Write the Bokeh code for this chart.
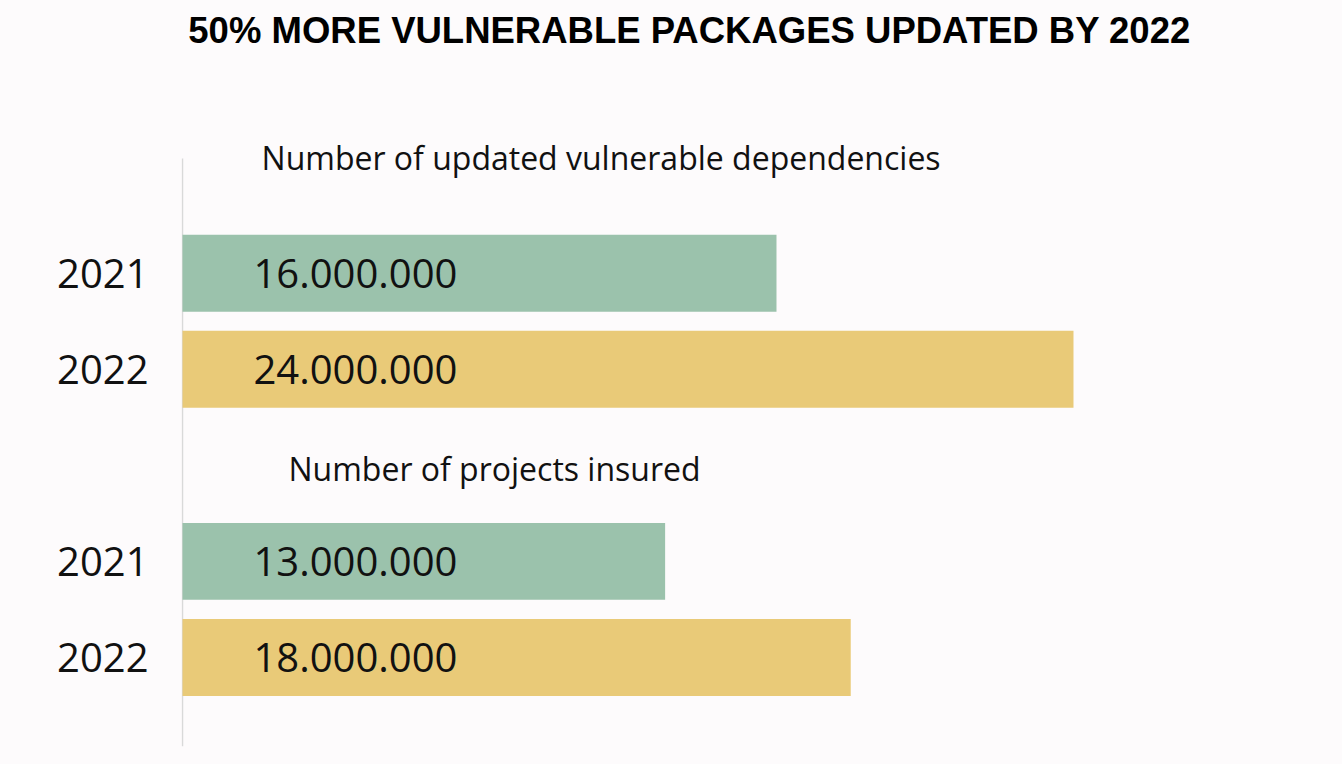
from bokeh.plotting import figure
from bokeh.models import Range1d, FixedTicker, Label, ColumnDataSource
from bokeh.embed import file_html
from bokeh.resources import INLINE
from bokeh.core.properties import value

BG = "#fdfbfc"
INK = "#111111"

title_text = "50% MORE VULNERABLE PACKAGES UPDATED BY 2022"
sections = ["Number of updated vulnerable dependencies", "Number of projects insured"]
years = ["2021", "2022"]
dependencies = [16_000_000, 24_000_000]
projects = [13_000_000, 18_000_000]
year_colors = ["#9bc2ac", "#e9ca78"]

# build rows: each section takes 3 slots (subtitle + 2 bars)
ys, vals, cols, labs = [], [], [], []
for g, series in enumerate([dependencies, projects]):
    for j, v in enumerate(series):
        ys.append(4 - (3 * g + j))
        vals.append(v)
        cols.append(year_colors[j])
        labs.append(f"{v:,}".replace(",", "."))

src = ColumnDataSource(dict(y=ys, value=vals, color=cols, label=labs))

Y_BOTTOM, Y_AXIS_TOP, Y_TOP = -0.927, 5.193, 6.839

p = figure(width=1342, height=764, output_backend="svg", toolbar_location=None,
           x_range=Range1d(-0.027e6, 30.115e6), y_range=Range1d(Y_BOTTOM, Y_TOP),
           min_border_left=181, min_border_right=42, min_border_top=0,
           min_border_bottom=18, background_fill_color=BG, border_fill_color=BG,
           outline_line_color=None)

# thin vertical baseline
p.segment(x0=0, y0=Y_BOTTOM, x1=0, y1=Y_AXIS_TOP, line_color="#d9d9d9", line_width=1.5)

p.hbar(y="y", left=0, right="value", height=0.8, fill_color="color",
       line_color=None, source=src)
p.text(x=0, y="y", text="label", x_offset=71, text_baseline="middle",
       text_align="left", text_font=value("Open Sans"), text_font_size="40px",
       text_color=INK, source=src)

p.xaxis.visible = False
p.xgrid.visible = False
p.ygrid.visible = False

p.yaxis.ticker = FixedTicker(ticks=ys)
p.yaxis.major_label_overrides = {y: years[i % 2] for i, y in enumerate(ys)}
p.yaxis.axis_line_color = None
p.yaxis.major_tick_line_color = None
p.yaxis.minor_tick_line_color = None
p.yaxis.major_label_text_font = "Open Sans"
p.yaxis.major_label_text_font_size = "40px"
p.yaxis.major_label_text_color = INK
p.yaxis.major_label_standoff = 27

p.add_layout(Label(x=2.13e6, y=5.203, text=sections[0], text_baseline="middle",
                   text_font="Open Sans", text_font_size="32px", text_color=INK))
p.add_layout(Label(x=2.855e6, y=1.964, text=sections[1], text_baseline="middle",
                   text_font="Open Sans", text_font_size="32px", text_color=INK))
p.add_layout(Label(x=13.66e6, y=6.526, text=title_text, text_align="center",
                   text_baseline="middle", text_font="Liberation Sans",
                   text_font_style="bold", text_font_size="36.5px", text_color="#000000"))

html = file_html(p, INLINE, title="chart")
html = html.replace("</head>", f"<style>body{{background:{BG};}}</style></head>", 1)
open("out.html", "w").write(html)
